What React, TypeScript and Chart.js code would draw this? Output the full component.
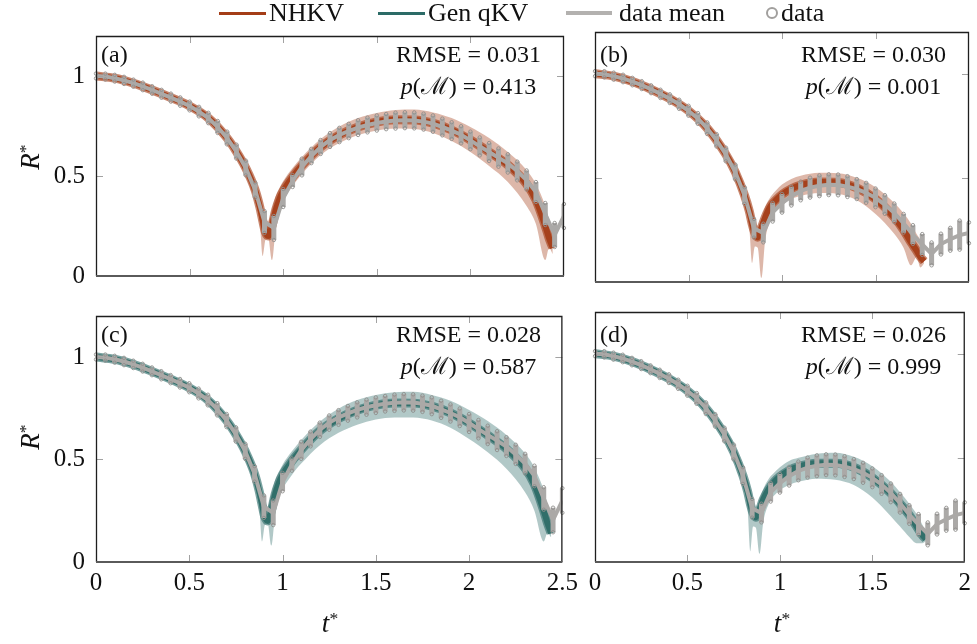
import React, { useEffect, useRef } from "react";
import { Chart, registerables } from "chart.js";
Chart.register(...registerables);

const FONT = '"Liberation Serif", "Times New Roman", serif';

// ---------- data (measured) ----------
const T_DATA1 = [0, 0.05, 0.1, 0.15, 0.2, 0.25, 0.3, 0.35, 0.4, 0.45, 0.5, 0.55, 0.6, 0.65, 0.7, 0.75, 0.8, 0.85, 0.9, 0.95, 1, 1.05, 1.1, 1.15, 1.2, 1.25, 1.3, 1.35, 1.4, 1.45, 1.5, 1.55, 1.6, 1.65, 1.7, 1.75, 1.8, 1.85, 1.9, 1.95, 2, 2.05, 2.1, 2.15, 2.2, 2.25, 2.3, 2.35, 2.4, 2.45, 2.5];
const MEAN1 = [1.0, 0.997, 0.989, 0.978, 0.964, 0.948, 0.93, 0.911, 0.892, 0.872, 0.85, 0.822, 0.79, 0.745, 0.69, 0.622, 0.54, 0.43, 0.27, 0.24, 0.39, 0.475, 0.545, 0.6, 0.645, 0.68, 0.705, 0.725, 0.742, 0.755, 0.765, 0.772, 0.777, 0.779, 0.778, 0.772, 0.762, 0.745, 0.727, 0.706, 0.678, 0.648, 0.62, 0.592, 0.563, 0.525, 0.48, 0.42, 0.31, 0.205, 0.3];
const SPREAD1 = [0.012, 0.015, 0.017, 0.018, 0.018, 0.019, 0.019, 0.02, 0.02, 0.021, 0.022, 0.024, 0.026, 0.03, 0.032, 0.035, 0.037, 0.038, 0.055, 0.06, 0.045, 0.03, 0.042, 0.036, 0.035, 0.035, 0.036, 0.036, 0.037, 0.037, 0.038, 0.038, 0.04, 0.04, 0.04, 0.04, 0.041, 0.042, 0.042, 0.043, 0.044, 0.045, 0.045, 0.046, 0.046, 0.047, 0.048, 0.05, 0.055, 0.06, 0.06];

const T_DATA2 = [0, 0.05, 0.1, 0.15, 0.2, 0.25, 0.3, 0.35, 0.4, 0.45, 0.5, 0.55, 0.6, 0.65, 0.7, 0.75, 0.8, 0.85, 0.9, 0.95, 1, 1.05, 1.1, 1.15, 1.2, 1.25, 1.3, 1.35, 1.4, 1.45, 1.5, 1.55, 1.6, 1.65, 1.7, 1.75, 1.8, 1.85, 1.9, 1.95, 2];
const MEAN2 = [1.0, 0.997, 0.988, 0.977, 0.962, 0.945, 0.925, 0.903, 0.88, 0.853, 0.822, 0.785, 0.738, 0.68, 0.612, 0.528, 0.415, 0.258, 0.235, 0.335, 0.378, 0.412, 0.437, 0.453, 0.462, 0.467, 0.466, 0.458, 0.446, 0.428, 0.404, 0.372, 0.332, 0.282, 0.228, 0.18, 0.135, 0.182, 0.205, 0.225, 0.236];
const SPREAD2 = [0.012, 0.015, 0.017, 0.018, 0.018, 0.019, 0.019, 0.02, 0.021, 0.022, 0.024, 0.026, 0.028, 0.03, 0.033, 0.036, 0.04, 0.045, 0.045, 0.045, 0.045, 0.045, 0.045, 0.048, 0.05, 0.05, 0.05, 0.05, 0.048, 0.048, 0.045, 0.045, 0.045, 0.045, 0.045, 0.05, 0.055, 0.05, 0.055, 0.07, 0.05];

// ---------- model bands ----------
const T_MODEL_1 = [0, 0.1, 0.2, 0.3, 0.4, 0.5, 0.6, 0.7, 0.75, 0.8, 0.85, 0.875, 0.89, 0.905, 0.92, 0.94, 0.96, 0.98, 1.0, 1.05, 1.1, 1.2, 1.3, 1.4, 1.5, 1.6, 1.7, 1.8, 1.9, 2.0, 2.1, 2.2, 2.3, 2.35, 2.4, 2.42, 2.44];
const NHKV_A_MID = [1.0, 0.989, 0.964, 0.93, 0.892, 0.85, 0.79, 0.69, 0.622, 0.54, 0.43, 0.345, 0.28, 0.22, 0.2, 0.25, 0.33, 0.385, 0.425, 0.495, 0.552, 0.645, 0.705, 0.745, 0.77, 0.781, 0.78, 0.764, 0.73, 0.68, 0.62, 0.555, 0.46, 0.38, 0.25, 0.19, 0.14];
const NHKV_A_LO = [0.995, 0.983, 0.957, 0.92, 0.879, 0.834, 0.77, 0.665, 0.592, 0.5, 0.37, 0.27, 0.1, 0.18, 0.19, 0.08, 0.24, 0.33, 0.375, 0.45, 0.51, 0.605, 0.665, 0.705, 0.728, 0.738, 0.735, 0.715, 0.675, 0.62, 0.55, 0.47, 0.35, 0.26, 0.08, 0.14, 0.11];
const NHKV_A_HI = [1.005, 0.995, 0.971, 0.94, 0.905, 0.866, 0.81, 0.715, 0.65, 0.575, 0.47, 0.395, 0.34, 0.3, 0.27, 0.33, 0.4, 0.44, 0.475, 0.54, 0.595, 0.685, 0.748, 0.79, 0.815, 0.83, 0.832, 0.818, 0.79, 0.745, 0.69, 0.62, 0.53, 0.46, 0.35, 0.28, 0.2];

const QKV_C_MID = [1.0, 0.989, 0.964, 0.93, 0.892, 0.85, 0.79, 0.69, 0.622, 0.54, 0.43, 0.345, 0.28, 0.22, 0.2, 0.25, 0.33, 0.385, 0.425, 0.492, 0.548, 0.64, 0.7, 0.74, 0.765, 0.776, 0.775, 0.76, 0.727, 0.678, 0.618, 0.552, 0.458, 0.378, 0.25, 0.19, 0.14];
const QKV_C_LO = [0.995, 0.983, 0.957, 0.92, 0.879, 0.834, 0.77, 0.665, 0.592, 0.5, 0.37, 0.27, 0.1, 0.18, 0.19, 0.08, 0.23, 0.31, 0.355, 0.425, 0.48, 0.57, 0.63, 0.67, 0.695, 0.705, 0.705, 0.69, 0.655, 0.6, 0.535, 0.455, 0.34, 0.25, 0.1, 0.14, 0.12];
const QKV_C_HI = [1.005, 0.995, 0.971, 0.94, 0.905, 0.866, 0.81, 0.715, 0.65, 0.575, 0.47, 0.395, 0.34, 0.3, 0.27, 0.33, 0.4, 0.44, 0.475, 0.54, 0.595, 0.685, 0.748, 0.79, 0.815, 0.828, 0.83, 0.815, 0.787, 0.742, 0.688, 0.62, 0.53, 0.46, 0.35, 0.28, 0.2];

const T_MODEL_B = [0, 0.1, 0.2, 0.3, 0.4, 0.5, 0.6, 0.7, 0.75, 0.8, 0.825, 0.84, 0.855, 0.87, 0.89, 0.91, 0.94, 0.97, 1.0, 1.05, 1.1, 1.2, 1.3, 1.4, 1.5, 1.6, 1.65, 1.69, 1.72, 1.74, 1.76];
const NHKV_B_MID = [1.0, 0.988, 0.962, 0.925, 0.88, 0.822, 0.738, 0.612, 0.528, 0.415, 0.34, 0.28, 0.235, 0.215, 0.26, 0.31, 0.365, 0.395, 0.42, 0.448, 0.465, 0.48, 0.478, 0.452, 0.398, 0.31, 0.25, 0.19, 0.15, 0.12, 0.1];
const NHKV_B_LO = [0.995, 0.982, 0.954, 0.915, 0.867, 0.806, 0.715, 0.582, 0.49, 0.36, 0.26, 0.09, 0.17, 0.165, 0.02, 0.2, 0.3, 0.345, 0.37, 0.398, 0.413, 0.427, 0.423, 0.393, 0.327, 0.232, 0.165, 0.08, 0.12, 0.07, 0.09];
const NHKV_B_HI = [1.005, 0.994, 0.97, 0.935, 0.893, 0.838, 0.76, 0.642, 0.565, 0.46, 0.39, 0.35, 0.3, 0.255, 0.3, 0.36, 0.41, 0.442, 0.468, 0.495, 0.51, 0.524, 0.522, 0.5, 0.455, 0.38, 0.33, 0.28, 0.23, 0.2, 0.14];

const T_MODEL_D = [0, 0.1, 0.2, 0.3, 0.4, 0.5, 0.6, 0.7, 0.75, 0.8, 0.825, 0.84, 0.855, 0.87, 0.89, 0.91, 0.94, 0.97, 1.0, 1.05, 1.1, 1.2, 1.3, 1.4, 1.5, 1.6, 1.65, 1.7, 1.74, 1.77, 1.79];
const QKV_D_MID = [1.0, 0.988, 0.962, 0.925, 0.88, 0.822, 0.738, 0.612, 0.528, 0.415, 0.34, 0.28, 0.235, 0.215, 0.25, 0.3, 0.35, 0.385, 0.41, 0.44, 0.458, 0.474, 0.474, 0.455, 0.405, 0.33, 0.28, 0.225, 0.17, 0.13, 0.11];
const QKV_D_LO = [0.995, 0.982, 0.954, 0.915, 0.867, 0.806, 0.715, 0.582, 0.49, 0.36, 0.26, 0.05, 0.17, 0.165, 0.04, 0.19, 0.28, 0.32, 0.345, 0.37, 0.385, 0.4, 0.395, 0.37, 0.31, 0.22, 0.17, 0.12, 0.09, 0.09, 0.1];
const QKV_D_HI = [1.005, 0.994, 0.97, 0.935, 0.893, 0.838, 0.76, 0.642, 0.565, 0.46, 0.39, 0.35, 0.3, 0.255, 0.3, 0.35, 0.4, 0.43, 0.455, 0.485, 0.5, 0.52, 0.525, 0.505, 0.46, 0.385, 0.335, 0.28, 0.23, 0.18, 0.14];

const X_TICKS_WIDE = [0.5, 1, 1.5, 2];
const X_TICKS_NARROW = [0.5, 1, 1.5];
const Y_TICKS = [0, 0.5, 1];

const RUST = [164, 61, 23];
const TEAL = [44, 107, 103];
const GRAY = "#aba9a7";

type PanelProps = {
  L: number; T: number; R: number; B: number;
  xMax: number; xTicks: number[];
  showX: boolean; showY: boolean;
  tModel: number[]; lo: number[]; mid: number[]; hi: number[];
  rgb: number[];
  tData: number[]; mean: number[]; spread: number[];
};

function Panel(p: PanelProps) {
  const ref = useRef<HTMLCanvasElement>(null);
  const yw = p.showY ? p.L : 14;
  const pt = 22;
  const pr = p.showX && p.showY ? 20 : 8;
  const xh = p.showX ? 644 - p.B : 20;
  const left = p.L - yw;
  const top = p.T - pt;
  const width = p.R - p.L + yw + pr;
  const height = p.B - p.T + pt + xh;

  useEffect(() => {
    const [r, g, b] = p.rgb;
    const col = (a: number) => `rgba(${r},${g},${b},${a})`;
    const pts = (ys: number[]) => p.tModel.map((t, i) => ({ x: t, y: ys[i] }));
    const bars: any[] = [];
    const circles: any[] = [];
    p.tData.forEach((t, i) => {
      const lo = p.mean[i] - p.spread[i];
      const hi = p.mean[i] + p.spread[i];
      bars.push({ x: t, y: lo }, { x: t, y: hi }, { x: t, y: null });
      circles.push({ x: t, y: lo }, { x: t, y: hi });
    });
    const meanPts = p.tData.map((t, i) => ({ x: t, y: p.mean[i] }));

    const frameTicks = {
      id: "frameTicks",
      afterDatasetsDraw(chart: any) {
        const { ctx, chartArea: a } = chart;
        const xs = chart.scales.x;
        const ys = chart.scales.y;
        ctx.save();
        ctx.lineWidth = 1;
        ctx.strokeStyle = "#a2a2a2";
        ctx.beginPath();
        p.xTicks.forEach((v) => {
          const px = Math.round(xs.getPixelForValue(v)) + 0.5;
          ctx.moveTo(px, a.bottom);
          ctx.lineTo(px, a.bottom - 7);
          ctx.moveTo(px, a.top);
          ctx.lineTo(px, a.top + 7);
        });
        Y_TICKS.filter((v) => v > 0).forEach((v) => {
          const py = Math.round(ys.getPixelForValue(v)) + 0.5;
          ctx.moveTo(a.left, py);
          ctx.lineTo(a.left + 7, py);
          ctx.moveTo(a.right, py);
          ctx.lineTo(a.right - 7, py);
        });
        ctx.stroke();
        ctx.strokeStyle = "#1e1e1e";
        ctx.lineWidth = 1.3;
        ctx.beginPath();
        ctx.moveTo(a.left + 0.5, a.bottom);
        ctx.lineTo(a.left + 0.5, a.top + 0.5);
        ctx.lineTo(a.right - 0.5, a.top + 0.5);
        ctx.lineTo(a.right - 0.5, a.bottom);
        ctx.stroke();
        ctx.strokeStyle = "#5a5a5a";
        ctx.lineWidth = 2;
        ctx.beginPath();
        ctx.moveTo(a.left, a.bottom);
        ctx.lineTo(a.right, a.bottom);
        ctx.stroke();
        ctx.restore();
      },
    };

    const fmt = (v: any) => String(Number(v));

    const chart = new Chart(ref.current as HTMLCanvasElement, {
      type: "line",
      data: {
        datasets: [
          { data: pts(p.lo), borderColor: "rgba(0,0,0,0)", borderWidth: 1, pointRadius: 0, fill: false, cubicInterpolationMode: "monotone", order: 10, clip: 0 } as any,
          { data: pts(p.hi), borderColor: "rgba(0,0,0,0)", borderWidth: 1, pointRadius: 0, fill: "-1", backgroundColor: col(0.37), cubicInterpolationMode: "monotone", order: 10, clip: 0 } as any,
          { data: pts(p.mid), borderColor: col(0.62), borderWidth: 9, pointRadius: 0, fill: false, cubicInterpolationMode: "monotone", order: 8, clip: 0 } as any,
          { data: pts(p.mid), borderColor: col(0.9), borderWidth: 6, pointRadius: 0, fill: false, cubicInterpolationMode: "monotone", order: 7, clip: 0 } as any,
          { data: bars, borderColor: GRAY, borderWidth: 5, borderCapStyle: "butt", pointRadius: 0, fill: false, spanGaps: false, tension: 0, order: 5, clip: 0 } as any,
          { data: meanPts, borderColor: GRAY, borderWidth: 4, pointRadius: 0, fill: false, tension: 0, order: 4, clip: 0 } as any,
          { data: circles, showLine: false, pointRadius: 1.7, pointBorderWidth: 0.9, pointBorderColor: "#908e8c", pointBackgroundColor: "rgba(0,0,0,0)", order: 3, clip: 3 } as any,
        ],
      },
      options: {
        animation: false,
        responsive: false,
        maintainAspectRatio: false,
        devicePixelRatio: 1,
        events: [],
        layout: { padding: { left: 0, right: pr, top: pt, bottom: 0 } },
        plugins: { legend: { display: false }, tooltip: { enabled: false }, title: { display: false } },
        scales: {
          x: {
            type: "linear", min: 0, max: p.xMax, position: "bottom",
            grid: { display: false, drawTicks: false }, border: { display: false },
            ticks: { display: p.showX, stepSize: 0.5, padding: 6, autoSkip: false, maxRotation: 0, color: "#111", font: { family: FONT, size: 25 }, callback: fmt },
            afterFit: (s: any) => { s.height = xh; },
          },
          y: {
            type: "linear", min: 0, max: 1.2, position: "left",
            grid: { display: false, drawTicks: false }, border: { display: false },
            afterBuildTicks: (s: any) => { s.ticks = Y_TICKS.map((v) => ({ value: v })); },
            ticks: { display: p.showY, padding: 11, color: "#111", font: { family: FONT, size: 25 }, callback: fmt },
            afterFit: (s: any) => { s.width = yw; },
          },
        },
      } as any,
      plugins: [frameTicks],
    });
    return () => chart.destroy();
  }, []);

  return (
    <canvas
      ref={ref}
      width={width}
      height={height}
      style={{ position: "absolute", left, top, width, height }}
    />
  );
}

const PANELS = [
  { key: "a", L: 96, T: 32, R: 564, B: 282, xMax: 2.5, xTicks: X_TICKS_WIDE, showX: false, showY: true, tModel: T_MODEL_1, lo: NHKV_A_LO, mid: NHKV_A_MID, hi: NHKV_A_HI, rgb: RUST, tData: T_DATA1, mean: MEAN1, spread: SPREAD1, rmse: "0.031", pm: "0.413" },
  { key: "b", L: 595, T: 32, R: 969, B: 282, xMax: 2, xTicks: X_TICKS_NARROW, showX: false, showY: false, tModel: T_MODEL_B, lo: NHKV_B_LO, mid: NHKV_B_MID, hi: NHKV_B_HI, rgb: RUST, tData: T_DATA2, mean: MEAN2, spread: SPREAD2, rmse: "0.030", pm: "0.001" },
  { key: "c", L: 96, T: 312, R: 564, B: 562, xMax: 2.5, xTicks: X_TICKS_WIDE, showX: true, showY: true, tModel: T_MODEL_1, lo: QKV_C_LO, mid: QKV_C_MID, hi: QKV_C_HI, rgb: TEAL, tData: T_DATA1, mean: MEAN1, spread: SPREAD1, rmse: "0.028", pm: "0.587" },
  { key: "d", L: 595, T: 312, R: 969, B: 562, xMax: 2, xTicks: X_TICKS_NARROW, showX: true, showY: false, tModel: T_MODEL_D, lo: QKV_D_LO, mid: QKV_D_MID, hi: QKV_D_HI, rgb: TEAL, tData: T_DATA2, mean: MEAN2, spread: SPREAD2, rmse: "0.026", pm: "0.999" },
];

const supStyle: React.CSSProperties = { fontSize: "0.65em", verticalAlign: "0.45em", lineHeight: 0 };

export default function App() {
  const abs: React.CSSProperties = { position: "absolute", whiteSpace: "nowrap" };
  return (
    <div style={{ position: "absolute", left: 0, top: 0, width: 977, height: 644, overflow: "hidden", background: "#fff", fontFamily: FONT, color: "#111" }}>
      {PANELS.map((p) => (
        <Panel key={p.key} {...p} />
      ))}

      {/* legend */}
      <div style={{ ...abs, left: 219, top: 11.5, width: 47, height: 3, background: "rgb(164,61,23)" }} />
      <span style={{ ...abs, left: 269, top: 0, fontSize: 26, lineHeight: "26px" }}>NHKV</span>
      <div style={{ ...abs, left: 378, top: 11.5, width: 47, height: 3, background: "rgb(44,107,103)" }} />
      <span style={{ ...abs, left: 428, top: 0, fontSize: 26, lineHeight: "26px" }}>Gen qKV</span>
      <div style={{ ...abs, left: 566, top: 11.25, width: 46, height: 3.5, background: "#b3b1af" }} />
      <span style={{ ...abs, left: 619, top: 0, fontSize: 26, lineHeight: "26px" }}>data mean</span>
      <div style={{ ...abs, left: 766, top: 7, width: 12, height: 12, boxSizing: "border-box", border: "2.5px solid #a19f9d", borderRadius: "50%" }} />
      <span style={{ ...abs, left: 781, top: 0, fontSize: 26, lineHeight: "26px" }}>data</span>

      {/* panel annotations */}
      {PANELS.map((p) => (
        <React.Fragment key={"ann" + p.key}>
          <div style={{ ...abs, left: p.L + 5, top: p.T + 5.6, fontSize: 24, lineHeight: "32px" }}>({p.key})</div>
          <div style={{ ...abs, left: p.R - 95.5 - 110, width: 220, top: p.T + 5.6, fontSize: 24, lineHeight: "32px", textAlign: "center" }}>
            <div>RMSE = {p.rmse}</div>
            <div><i>p</i>(ℳ) = {p.pm}</div>
          </div>
        </React.Fragment>
      ))}

      {/* axis titles */}
      {[157, 437].map((cy) => (
        <div key={"ry" + cy} style={{ ...abs, left: 30, top: cy, transform: "translate(-50%,-50%) rotate(-90deg)", fontSize: 27, lineHeight: 1 }}>
          <i>R</i><span style={supStyle}>*</span>
        </div>
      ))}
      {[330, 782].map((cx) => (
        <div key={"tx" + cx} style={{ ...abs, left: cx, top: 623, transform: "translate(-50%,-50%)", fontSize: 27, lineHeight: 1 }}>
          <i>t</i><span style={supStyle}>*</span>
        </div>
      ))}
    </div>
  );
}
